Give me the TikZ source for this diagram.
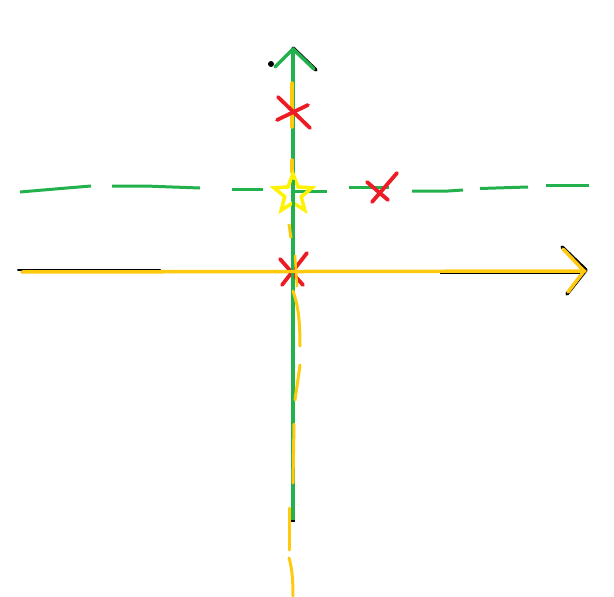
\documentclass[tikz,border=0pt]{standalone}
\usetikzlibrary{shapes.geometric}
\definecolor{pgreen}{HTML}{22B14C}
\definecolor{pgold}{HTML}{FFC90E}
\definecolor{pred}{HTML}{ED1C24}
\definecolor{pyel}{HTML}{FFF200}
\tikzset{
  stroke/.style={line width=3.5pt,line cap=round,line join=round},
  dashstroke/.style={line width=3pt,pgreen},
  crossmark/.style={line width=3.8pt,pred,line cap=round},
}
\begin{document}
\begin{tikzpicture}[x=1pt,y=-1pt]
\useasboundingbox (0,0) rectangle (614,597);
% named coordinates
\coordinate (Xend) at (585,271);
\coordinate (Ytop) at (293,49);
\coordinate (Ybot) at (293,520);
% horizontal axis (black under yellow)
\draw[line width=2pt,black,line cap=round] (18,269.5) -- (160,269.5);
\draw[stroke,black] (562,247) -- (586,270) -- (567,294);
\draw[stroke,pgold] (22,272) -- (Xend);
\draw[stroke,pgold] (563,249) -- (584,271) -- (568,292);
\draw[line width=1.2pt,black] (440,273.2) -- (580,273.2);
\draw[stroke,pgold] (300,271.3) -- (582,271.3);
% vertical green axis
\draw[stroke,black] (293,48) -- (316,70);
\fill[black] (271,64) circle (3pt);
\draw[stroke,pgreen] (Ybot) -- (Ytop);
\draw[stroke,pgreen] (275,67) -- (Ytop) -- (314,69);
\draw[line width=1.5pt,black] (291,521) -- (295,521);
% yellow dashed curve along vertical axis
\draw[stroke,pgold] (292,83) -- (292,127);
\draw[stroke,pgold] (292,160) -- (292,172);
\draw[line width=3pt,pgold] (289,224) -- (291,238);
\draw[line width=3pt,pgold,line cap=round] (293,291) .. controls (298,305) and (300,320) .. (300,346);
\draw[line width=3pt,pgold,line cap=round] (300,365) .. controls (298,380) and (296,392) .. (295,400);
\draw[line width=3pt,pgold,line cap=round] (294,424) -- (293,483);
\draw[line width=3pt,pgold,line cap=round] (289,508) -- (289,550);
\draw[line width=3pt,pgold,line cap=round] (289,558) .. controls (292,568) and (293,580) .. (293,596);
% green dashed horizontal line
\draw[dashstroke] (20,192) -- (55,189) -- (91,186);
\draw[dashstroke] (112,186) -- (145,186) -- (200,188);
\draw[dashstroke] (232,189) -- (263,189);
\draw[dashstroke] (293,191) -- (327,191);
\draw[dashstroke] (349,187) -- (389,187);
\draw[dashstroke] (412,191) -- (448,191) -- (463,190);
\draw[dashstroke] (480,188.5) -- (528,187);
\draw[dashstroke] (546,185) -- (589,185);
% star
\node[star,star points=5,star point ratio=2.3,minimum size=40pt,draw=pyel,line width=3.5pt,inner sep=0pt] (star) at (293,194) {};
\draw[line width=3pt,pgreen] (293,180) -- (293,212);
% red crosses
\draw[crossmark] (278,97) -- (310,128);
\draw[crossmark] (308,105) -- (277,120);
\draw[crossmark] (367,182) -- (388,200);
\draw[crossmark] (397,173) -- (372,202);
\draw[crossmark] (280,259) -- (303,285);
\draw[crossmark] (307,253) -- (282,285);
\draw[line width=3pt,pgreen] (292,258) -- (292,286);
\draw[line width=2.5pt,pgold] (295,255) -- (297,287);
\draw[line width=3pt,pgold] (282,271.5) -- (300,271.5);
\end{tikzpicture}
\end{document}
